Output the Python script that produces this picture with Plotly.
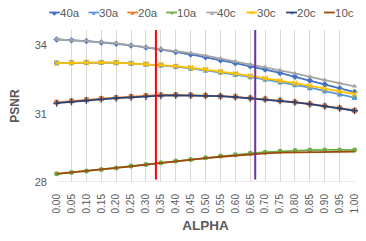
import plotly.graph_objects as go

alpha_labels = ["0.00", "0.05", "0.10", "0.15", "0.20", "0.25", "0.30", "0.35", "0.40", "0.45",
                "0.50", "0.55", "0.60", "0.65", "0.70", "0.75", "0.80", "0.85", "0.90", "0.95", "1.00"]

psnr_40a = [34.26, 34.23, 34.19, 34.13, 34.07, 34.00, 33.91, 33.82, 33.71, 33.60, 33.48,
            33.35, 33.22, 33.08, 32.94, 32.79, 32.62, 32.46, 32.29, 32.12, 31.95]
psnr_30a = [33.23, 33.24, 33.25, 33.25, 33.24, 33.21, 33.17, 33.13, 33.07, 32.99, 32.91,
            32.82, 32.72, 32.62, 32.51, 32.39, 32.27, 32.14, 32.00, 31.86, 31.71]
psnr_20a = [31.50, 31.56, 31.61, 31.66, 31.70, 31.75, 31.79, 31.82, 31.83, 31.82, 31.80,
            31.77, 31.74, 31.69, 31.64, 31.58, 31.51, 31.43, 31.34, 31.25, 31.14]
psnr_10a = [28.36, 28.42, 28.48, 28.55, 28.62, 28.70, 28.77, 28.85, 28.92, 28.99, 29.07,
            29.14, 29.20, 29.26, 29.31, 29.35, 29.38, 29.40, 29.41, 29.41, 29.41]
psnr_40c = [34.26, 34.23, 34.20, 34.14, 34.09, 34.01, 33.92, 33.85, 33.74, 33.66, 33.55,
            33.42, 33.29, 33.16, 33.05, 32.91, 32.77, 32.62, 32.48, 32.34, 32.20]
psnr_30c = [33.22, 33.24, 33.25, 33.25, 33.24, 33.21, 33.18, 33.15, 33.09, 33.02, 32.94,
            32.85, 32.76, 32.66, 32.56, 32.45, 32.34, 32.22, 32.10, 31.98, 31.86]
psnr_20c = [31.46, 31.52, 31.58, 31.63, 31.68, 31.72, 31.76, 31.79, 31.80, 31.80, 31.79,
            31.77, 31.73, 31.68, 31.63, 31.57, 31.50, 31.42, 31.33, 31.24, 31.13]
psnr_10c = [28.36, 28.42, 28.48, 28.55, 28.62, 28.69, 28.76, 28.84, 28.91, 28.98, 29.05,
            29.11, 29.17, 29.22, 29.26, 29.29, 29.30, 29.32, 29.33, 29.33, 29.33]

series_names = ["40a", "30a", "20a", "10a", "40c", "30c", "20c", "10c"]
series_values = [psnr_40a, psnr_30a, psnr_20a, psnr_10a, psnr_40c, psnr_30c, psnr_20c, psnr_10c]
y_ticks = [28, 31, 34]
ref_alphas = [1 / 3, 2 / 3]

colors = ["#4472C4", "#5B9BD5", "#ED7D31", "#70AD47", "#A5A5A5", "#FFC000", "#264478", "#9E480E"]
symbols = ["diamond", "square", "square", "circle", "triangle-up", "x-thin", "cross-thin", None]
glyphs = ["◆", "■", "■", "●", "▲", "✕", "+", ""]
ref_colors = ["#FF0000", "#7030A0"]

W, H = 366, 241
ML, MR, MT, MB = 56, 6, 30, 59
PW, PH = W - ML - MR, H - MT - MB
TXT = "#595959"

fig = go.Figure()
for name, vals, col, sym in zip(series_names, series_values, colors, symbols):
    if sym is None:
        fig.add_trace(go.Scatter(x=alpha_labels, y=vals, name=name, mode="lines",
                                 line=dict(color=col, width=1.8), cliponaxis=False,
                                 showlegend=False))
    else:
        mk = dict(symbol=sym, size=5, color=col)
        if sym.endswith("-thin"):
            mk = dict(symbol=sym, size=5, color=col, line=dict(color=col, width=1.3))
        fig.add_trace(go.Scatter(x=alpha_labels, y=vals, name=name, mode="lines+markers",
                                 line=dict(color=col, width=1.8), marker=mk,
                                 cliponaxis=False, showlegend=False))

n_steps = len(alpha_labels) - 1
shapes = []
for a, c in zip(ref_alphas, ref_colors):
    shapes.append(dict(type="line", xref="x", yref="paper", x0=a * n_steps, x1=a * n_steps,
                       y0=0.016, y1=1.0, line=dict(color=c, width=2)))

# manual legend (one row)
def px2x(px):
    return (px - ML) / PW

def py2y(py):
    return (H - MB - py) / PH

leg_starts = [49, 89, 128.5, 168, 209, 249.5, 290, 328.5]
leg_y = 12.5
annotations = []
for st, name, col, g in zip(leg_starts, series_names, colors, glyphs):
    shapes.append(dict(type="line", xref="paper", yref="paper", x0=px2x(st), x1=px2x(st + 11),
                       y0=py2y(leg_y), y1=py2y(leg_y), line=dict(color=col, width=1.8)))
    if g:
        annotations.append(dict(x=px2x(st + 5.5), y=py2y(leg_y), xref="paper", yref="paper",
                                text=g, showarrow=False, xanchor="center", yanchor="middle",
                                font=dict(size=6, color=col)))
    annotations.append(dict(x=px2x(st + 10), y=py2y(leg_y), xref="paper", yref="paper",
                            text=name, showarrow=False, xanchor="left", yanchor="middle",
                            borderpad=0,
                            font=dict(size=11.5, color=TXT, family="Liberation Sans")))

fig.update_layout(
    width=W, height=H,
    margin=dict(l=ML, r=MR, t=MT, b=MB),
    paper_bgcolor="white", plot_bgcolor="white",
    font=dict(family="Liberation Sans", color=TXT),
    shapes=shapes, annotations=annotations,
    showlegend=False,
    xaxis=dict(type="category", range=[-0.04, n_steps + 0.03],
               showgrid=True, gridcolor="#D9D9D9", gridwidth=1,
               showline=False, zeroline=False, ticks="",
               tickangle=-90, tickfont=dict(size=10, color=TXT),
               ticklabelstandoff=9,
               title=dict(text="<b>ALPHA</b>", font=dict(size=13.5, color=TXT), standoff=8)),
    yaxis=dict(range=[28, 28 + PH / 22.77], tickvals=y_ticks,
               showgrid=False, zeroline=False, showline=False, ticks="",
               tickfont=dict(size=11, color=TXT), ticklabelstandoff=8,
               title=dict(text="<b>PSNR</b>", font=dict(size=12, color=TXT), standoff=12)),
)
fig.add_shape(type="line", xref="paper", yref="y", x0=0, x1=1, y0=28, y1=28,
              line=dict(color="#D9D9D9", width=1), layer="below")

fig.write_html("out.html",
               config={"displayModeBar": False},
               post_script="document.body.style.margin='0';document.body.style.overflow='hidden';")
